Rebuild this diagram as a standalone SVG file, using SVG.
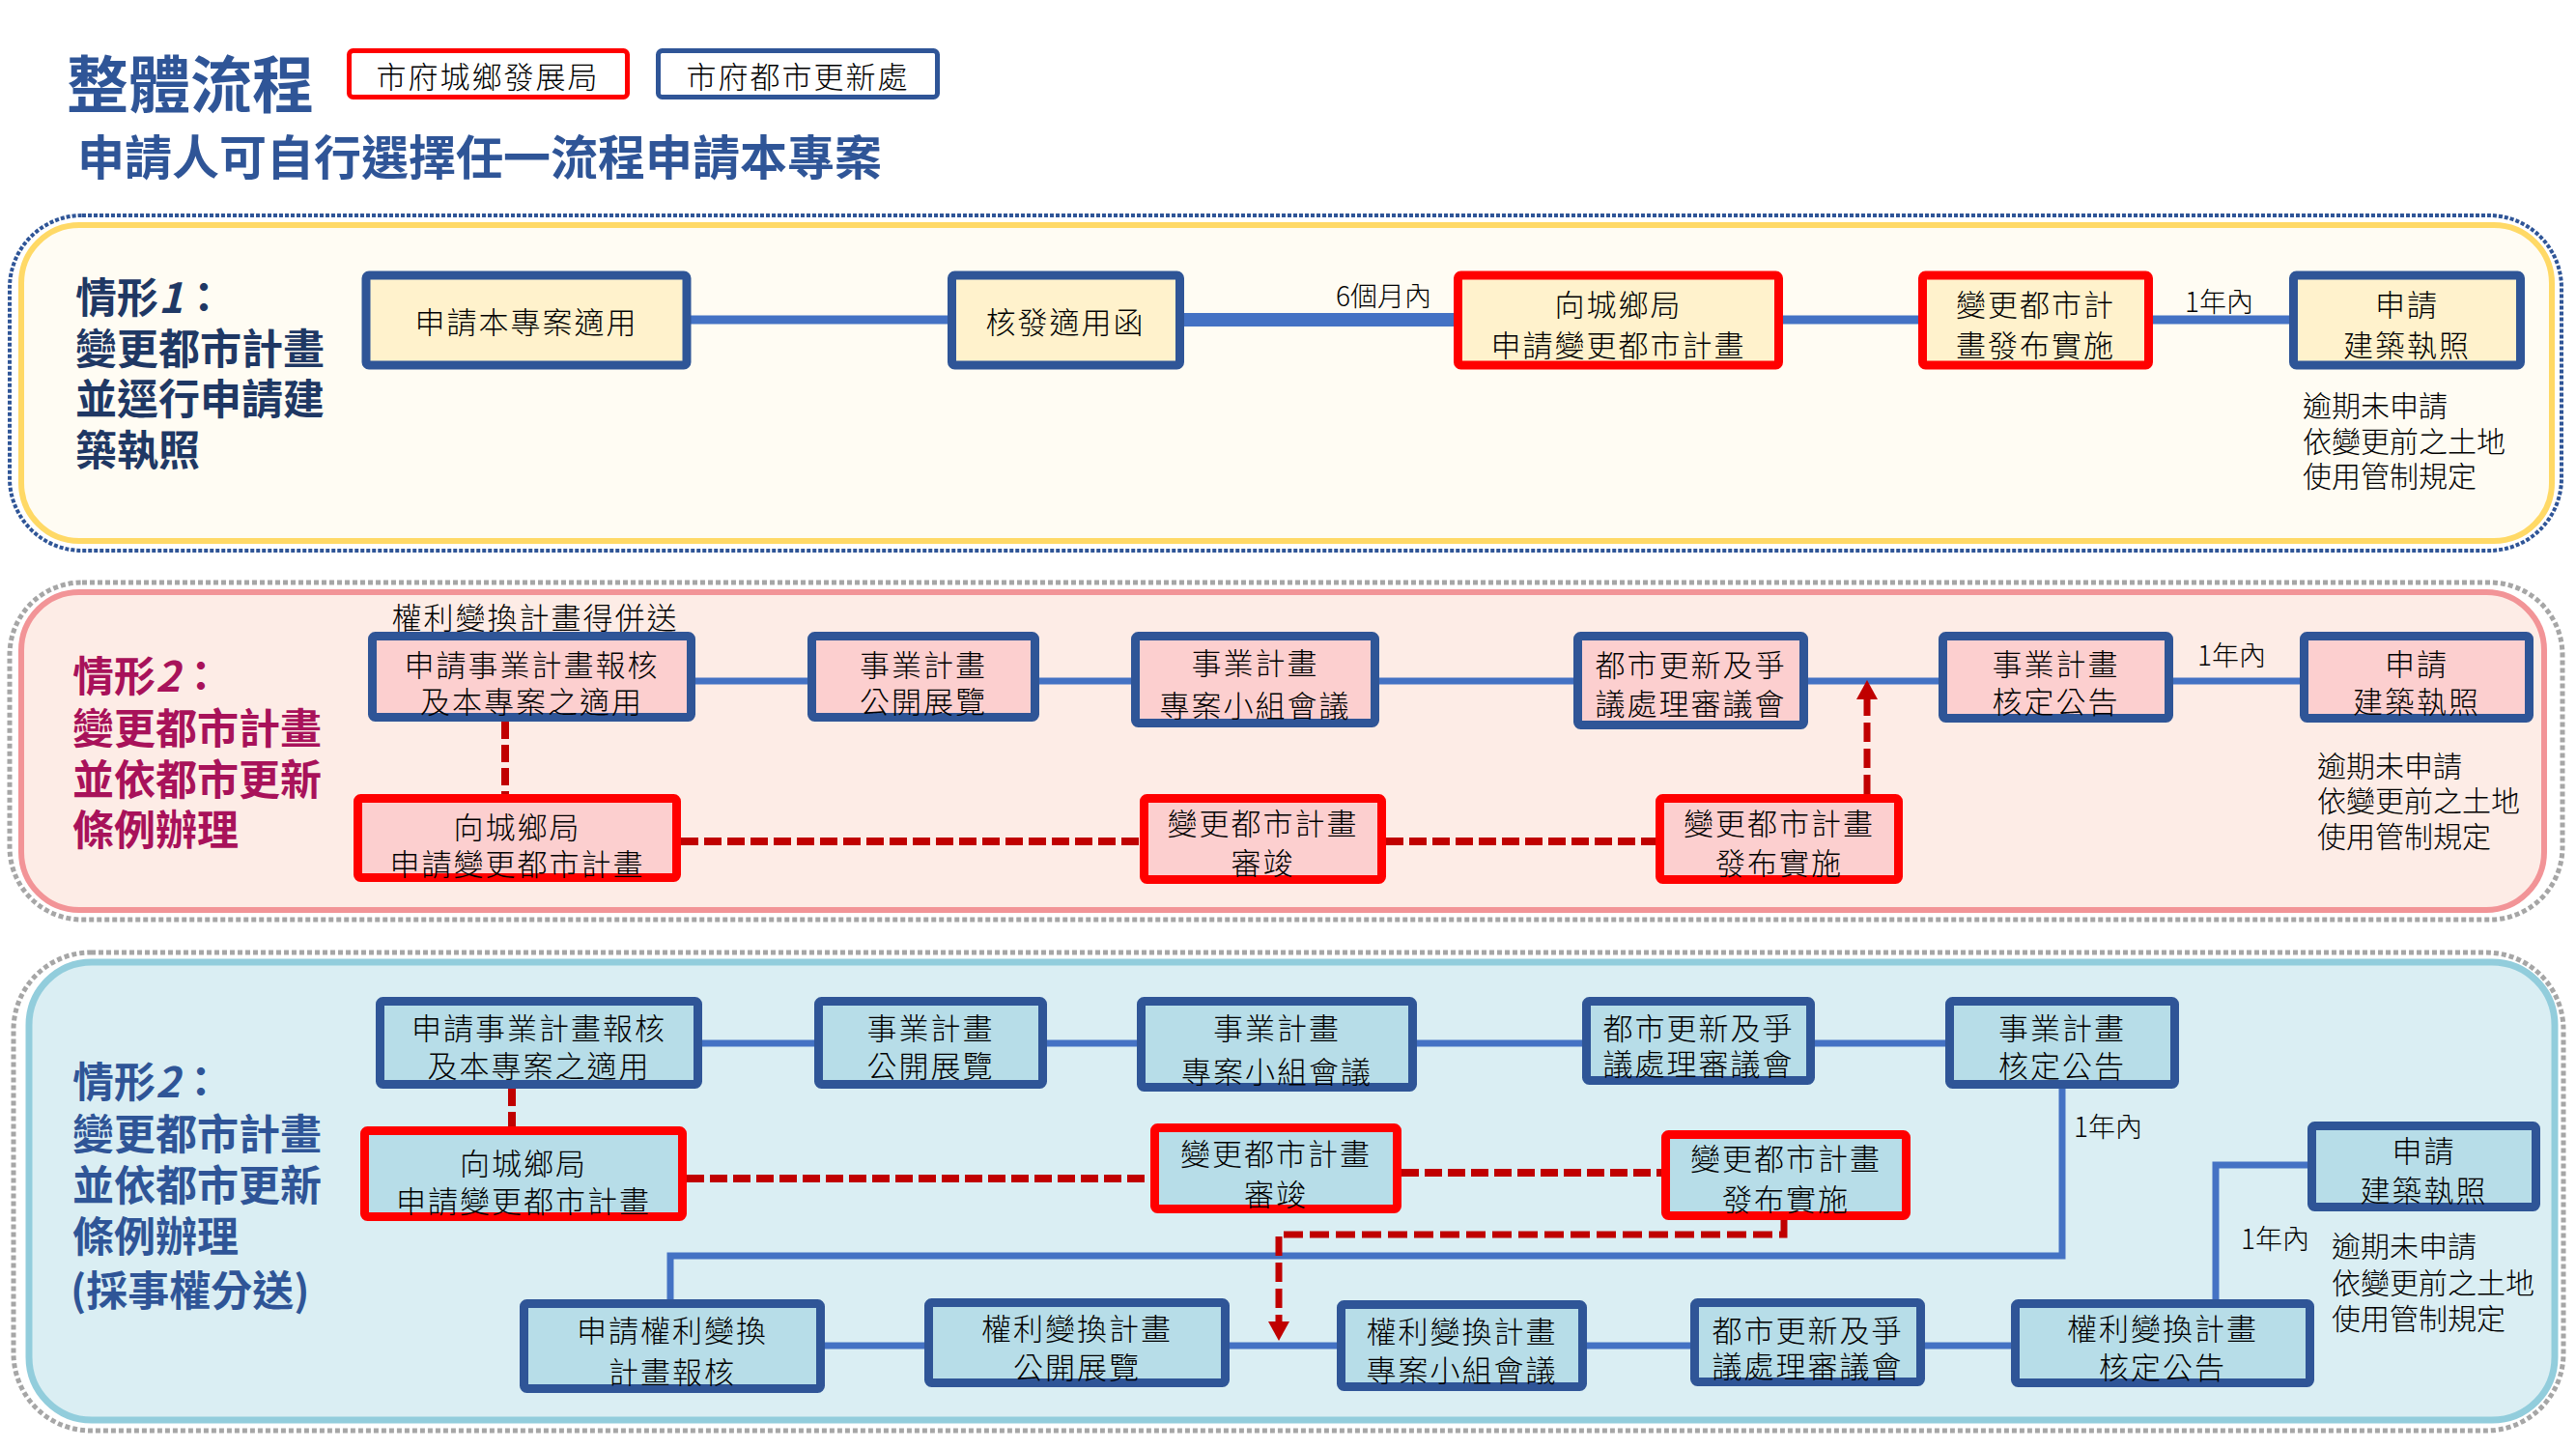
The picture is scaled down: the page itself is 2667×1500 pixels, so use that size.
<svg xmlns="http://www.w3.org/2000/svg" width="2667" height="1500" viewBox="0 0 2667 1500">
<defs>
<style>
text{font-family:"Noto Sans CJK TC","Noto Sans CJK SC",sans-serif;}
.t{font-size:31px;letter-spacing:2px;font-weight:300;fill:#000;text-anchor:middle;dominant-baseline:central;}
.s{font-size:28px;font-weight:300;fill:#000;dominant-baseline:central;}
.note{font-size:30px;font-weight:300;fill:#000;dominant-baseline:central;}
.lab{font-size:43px;font-weight:bold;dominant-baseline:central;}
.box{stroke-width:9;}
.bl{stroke:#2F5597;}
.rd{stroke:#FF0000;}
.y{fill:#FFF2CC;}
.p{fill:#FCCFCF;}
.c{fill:#B7DDE8;}
.ln{fill:none;stroke:#4472C4;}
.dr{fill:none;stroke:#C00000;stroke-width:8;stroke-dasharray:18 6;}
.da{fill:none;stroke:#C00000;stroke-width:7;stroke-dasharray:20 7;}
</style>
<marker id="ah" markerUnits="userSpaceOnUse" markerWidth="22" markerHeight="22" refX="0" refY="11" orient="auto">
<path d="M0,0 L20,11 L0,22 z" fill="#C00000"/>
</marker>
</defs>
<rect width="2667" height="1500" fill="#FFFFFF"/>

<g id="header">
<text x="69" y="83" font-size="64" font-weight="bold" fill="#2F5597" dominant-baseline="central">整體流程</text>
<text x="80" y="159" font-size="49" font-weight="bold" fill="#2F5597" dominant-baseline="central">申請人可自行選擇任一流程申請本專案</text>
</g>
<g id="legend-red">
<rect x="361.5" y="52.5" width="288" height="48" rx="4" fill="#FFFFFF" stroke="#FF0000" stroke-width="5"/>
<text class="t" x="505" y="77">市府城鄉發展局</text>
</g>
<g id="legend-blue">
<rect x="681.5" y="52.5" width="289" height="48" rx="4" fill="#FFFFFF" stroke="#2F5597" stroke-width="5"/>
<text class="t" x="826" y="77">市府都市更新處</text>
</g>

<g id="panel1">
<rect x="10" y="223" width="2642" height="347" rx="75" fill="none" stroke="#2F5597" stroke-width="4" stroke-dasharray="4 2"/>
<rect x="22" y="233" width="2620" height="327" rx="60" fill="#FFFCF3" stroke="#FFD966" stroke-width="6"/>
<text class="lab" fill="#1F3864" x="78" y="305">情形<tspan font-style="italic">1</tspan>：<tspan x="78" y="358">變更都市計畫</tspan><tspan x="78" y="410">並逕行申請建</tspan><tspan x="78" y="463">築執照</tspan></text>
</g>
<g id="panel2">
<rect x="10" y="603" width="2643" height="349" rx="75" fill="none" stroke="#A6A6A6" stroke-width="5" stroke-dasharray="5 3"/>
<rect x="22" y="613" width="2612" height="329" rx="60" fill="#FDECE6" stroke="#F29497" stroke-width="6"/>
<text class="lab" fill="#A8125A" x="75" y="697">情形<tspan font-style="italic">2</tspan>：<tspan x="75" y="751">變更都市計畫</tspan><tspan x="75" y="804">並依都市更新</tspan><tspan x="75" y="856">條例辦理</tspan></text>
</g>
<g id="panel3">
<rect x="14" y="986" width="2640" height="495" rx="80" fill="none" stroke="#A6A6A6" stroke-width="5" stroke-dasharray="5 3"/>
<rect x="30" y="996" width="2615" height="474" rx="65" fill="#DAEEF3" stroke="#92CDDC" stroke-width="7"/>
<text class="lab" fill="#2F5597" x="75" y="1117">情形<tspan font-style="italic">2</tspan>：<tspan x="75" y="1171">變更都市計畫</tspan><tspan x="75" y="1224">並依都市更新</tspan><tspan x="75" y="1277">條例辦理</tspan><tspan x="73" y="1333">(採事權分送)</tspan></text>
</g>

<g id="connectors">
<line class="ln" x1="715" y1="331" x2="981" y2="331" stroke-width="9"/>
<line class="ln" x1="1226" y1="331" x2="1505" y2="331" stroke-width="14"/>
<line class="ln" x1="1846" y1="331" x2="1986" y2="331" stroke-width="9"/>
<line class="ln" x1="2229" y1="331" x2="2370" y2="331" stroke-width="9"/>

<line class="ln" x1="720" y1="705" x2="836" y2="705" stroke-width="7"/>
<line class="ln" x1="1076" y1="705" x2="1171" y2="705" stroke-width="7"/>
<line class="ln" x1="1428" y1="705" x2="1629" y2="705" stroke-width="7"/>
<line class="ln" x1="1872" y1="705" x2="2007" y2="705" stroke-width="7"/>
<line class="ln" x1="2250" y1="705" x2="2381" y2="705" stroke-width="7"/>
<line class="dr" x1="523" y1="747" x2="523" y2="822"/>
<line class="dr" x1="705" y1="871" x2="1180" y2="871"/>
<line class="dr" x1="1435" y1="871" x2="1714" y2="871"/>
<line class="da" x1="1933" y1="822" x2="1933" y2="724" marker-end="url(#ah)"/>

<line class="ln" x1="727" y1="1080" x2="843" y2="1080" stroke-width="7"/>
<line class="ln" x1="1084" y1="1080" x2="1177" y2="1080" stroke-width="7"/>
<line class="ln" x1="1467" y1="1080" x2="1638" y2="1080" stroke-width="7"/>
<line class="ln" x1="1879" y1="1080" x2="2014" y2="1080" stroke-width="7"/>
<path class="ln" d="M2135,1127 V1300 H694 V1345" stroke-width="7"/>
<line class="ln" x1="854" y1="1393" x2="957" y2="1393" stroke-width="7"/>
<line class="ln" x1="1273" y1="1393" x2="1384" y2="1393" stroke-width="7"/>
<line class="ln" x1="1643" y1="1393" x2="1750" y2="1393" stroke-width="7"/>
<line class="ln" x1="1993" y1="1393" x2="2082" y2="1393" stroke-width="7"/>
<path class="ln" d="M2294,1345 V1206 H2389" stroke-width="7"/>
<line class="dr" x1="530" y1="1127" x2="530" y2="1166"/>
<line class="dr" x1="711" y1="1220" x2="1191" y2="1220"/>
<line class="dr" x1="1451" y1="1214" x2="1720" y2="1214"/>
<path class="da" d="M1847,1263 V1278 H1324 V1368" stroke-width="8" marker-end="url(#ah)"/>
</g>

<g id="labels">
<text class="s" x="1383" y="305">6個月內</text>
<text class="s" x="2262" y="311">1年內</text>
<text class="note" x="2384" y="418">逾期未申請<tspan x="2384" y="455">依變更前之土地</tspan><tspan x="2384" y="491">使用管制規定</tspan></text>

<text class="t" x="554" y="637">權利變換計畫得併送</text>
<text class="s" x="2275" y="677">1年內</text>
<text class="note" x="2399" y="791">逾期未申請<tspan x="2399" y="827">依變更前之土地</tspan><tspan x="2399" y="864">使用管制規定</tspan></text>

<text class="s" x="2147" y="1165">1年內</text>
<text class="s" x="2320" y="1281">1年內</text>
<text class="note" x="2414" y="1288">逾期未申請<tspan x="2414" y="1326">依變更前之土地</tspan><tspan x="2414" y="1363">使用管制規定</tspan></text>
</g>

<g id="s1-apply"><rect class="box bl y" x="379" y="285" width="332" height="93" rx="3"/><text class="t" x="545" y="331">申請本專案適用</text></g>
<g id="s1-letter"><rect class="box bl y" x="985.5" y="285" width="236" height="93" rx="3"/><text class="t" x="1103" y="331">核發適用函</text></g>
<g id="s1-urban"><rect class="box rd y" x="1509.5" y="285" width="332" height="93" rx="3"/><text class="t" x="1675.5" y="313">向城鄉局<tspan x="1675.5" y="355">申請變更都市計畫</tspan></text></g>
<g id="s1-publish"><rect class="box rd y" x="1990.5" y="285" width="234" height="93" rx="3"/><text class="t" x="2107.5" y="313">變更都市計<tspan x="2107.5" y="355">畫發布實施</tspan></text></g>
<g id="s1-permit"><rect class="box bl y" x="2374.5" y="285" width="235" height="93" rx="3"/><text class="t" x="2492" y="313">申請<tspan x="2492" y="355">建築執照</tspan></text></g>

<g id="s2-apply"><rect class="box bl p" x="385.5" y="658.5" width="330" height="84" rx="3"/><text class="t" x="550.5" y="686">申請事業計畫報核<tspan x="550.5" y="724">及本專案之適用</tspan></text></g>
<g id="s2-exhibit"><rect class="box bl p" x="840.5" y="658.5" width="231" height="84" rx="3"/><text class="t" x="956" y="686">事業計畫<tspan x="956" y="724">公開展覽</tspan></text></g>
<g id="s2-panel"><rect class="box bl p" x="1175.5" y="658.5" width="248" height="90" rx="3"/><text class="t" x="1299.5" y="684">事業計畫<tspan x="1299.5" y="728">專案小組會議</tspan></text></g>
<g id="s2-council"><rect class="box bl p" x="1633.5" y="658.5" width="234" height="92" rx="3"/><text class="t" x="1750.5" y="686">都市更新及爭<tspan x="1750.5" y="726">議處理審議會</tspan></text></g>
<g id="s2-approve"><rect class="box bl p" x="2011.5" y="658.5" width="234" height="85" rx="3"/><text class="t" x="2128.5" y="685">事業計畫<tspan x="2128.5" y="724">核定公告</tspan></text></g>
<g id="s2-permit"><rect class="box bl p" x="2385.5" y="658.5" width="233" height="85" rx="3"/><text class="t" x="2502" y="685">申請<tspan x="2502" y="724">建築執照</tspan></text></g>
<g id="s2-urban"><rect class="box rd p" x="370.5" y="826.5" width="330" height="82" rx="3"/><text class="t" x="535.5" y="854">向城鄉局<tspan x="535.5" y="892">申請變更都市計畫</tspan></text></g>
<g id="s2-review"><rect class="box rd p" x="1184.5" y="826.5" width="246" height="84" rx="3"/><text class="t" x="1307.5" y="850">變更都市計畫<tspan x="1307.5" y="891">審竣</tspan></text></g>
<g id="s2-publish"><rect class="box rd p" x="1718.5" y="826.5" width="247" height="84" rx="3"/><text class="t" x="1842" y="850">變更都市計畫<tspan x="1842" y="891">發布實施</tspan></text></g>

<g id="s3-apply"><rect class="box bl c" x="393.5" y="1036.5" width="329" height="86" rx="3"/><text class="t" x="558" y="1062">申請事業計畫報核<tspan x="558" y="1101">及本專案之適用</tspan></text></g>
<g id="s3-exhibit"><rect class="box bl c" x="847.5" y="1036.5" width="232" height="86" rx="3"/><text class="t" x="963.5" y="1062">事業計畫<tspan x="963.5" y="1101">公開展覽</tspan></text></g>
<g id="s3-panel"><rect class="box bl c" x="1181.5" y="1036.5" width="281" height="89" rx="3"/><text class="t" x="1322" y="1062">事業計畫<tspan x="1322" y="1107">專案小組會議</tspan></text></g>
<g id="s3-council"><rect class="box bl c" x="1642.5" y="1036.5" width="232" height="82" rx="3"/><text class="t" x="1758.5" y="1062">都市更新及爭<tspan x="1758.5" y="1099">議處理審議會</tspan></text></g>
<g id="s3-approve"><rect class="box bl c" x="2018.5" y="1036.5" width="233" height="86" rx="3"/><text class="t" x="2135" y="1062">事業計畫<tspan x="2135" y="1101">核定公告</tspan></text></g>
<g id="s3-urban"><rect class="box rd c" x="377.5" y="1170.5" width="329" height="89" rx="3"/><text class="t" x="542" y="1202">向城鄉局<tspan x="542" y="1241">申請變更都市計畫</tspan></text></g>
<g id="s3-review"><rect class="box rd c" x="1195.5" y="1167.5" width="251" height="84" rx="3"/><text class="t" x="1321" y="1192">變更都市計畫<tspan x="1321" y="1234">審竣</tspan></text></g>
<g id="s3-publish"><rect class="box rd c" x="1724.5" y="1174.5" width="249" height="84" rx="3"/><text class="t" x="1849" y="1197">變更都市計畫<tspan x="1849" y="1239">發布實施</tspan></text></g>
<g id="s3-permit"><rect class="box bl c" x="2393.5" y="1165.5" width="232" height="84" rx="3"/><text class="t" x="2509.5" y="1189">申請<tspan x="2509.5" y="1230">建築執照</tspan></text></g>
<g id="s3-rt-apply"><rect class="box bl c" x="542.5" y="1349.5" width="307" height="88" rx="3"/><text class="t" x="696" y="1375">申請權利變換<tspan x="696" y="1418">計畫報核</tspan></text></g>
<g id="s3-rt-exhibit"><rect class="box bl c" x="961.5" y="1348.5" width="307" height="83" rx="3"/><text class="t" x="1115" y="1373">權利變換計畫<tspan x="1115" y="1413">公開展覽</tspan></text></g>
<g id="s3-rt-panel"><rect class="box bl c" x="1388.5" y="1350.5" width="250" height="85" rx="3"/><text class="t" x="1513.5" y="1376">權利變換計畫<tspan x="1513.5" y="1416">專案小組會議</tspan></text></g>
<g id="s3-rt-council"><rect class="box bl c" x="1754.5" y="1348.5" width="234" height="82" rx="3"/><text class="t" x="1871.5" y="1375">都市更新及爭<tspan x="1871.5" y="1412">議處理審議會</tspan></text></g>
<g id="s3-rt-approve"><rect class="box bl c" x="2086.5" y="1349.5" width="305" height="82" rx="3"/><text class="t" x="2239" y="1373">權利變換計畫<tspan x="2239" y="1413">核定公告</tspan></text></g>
</svg>
